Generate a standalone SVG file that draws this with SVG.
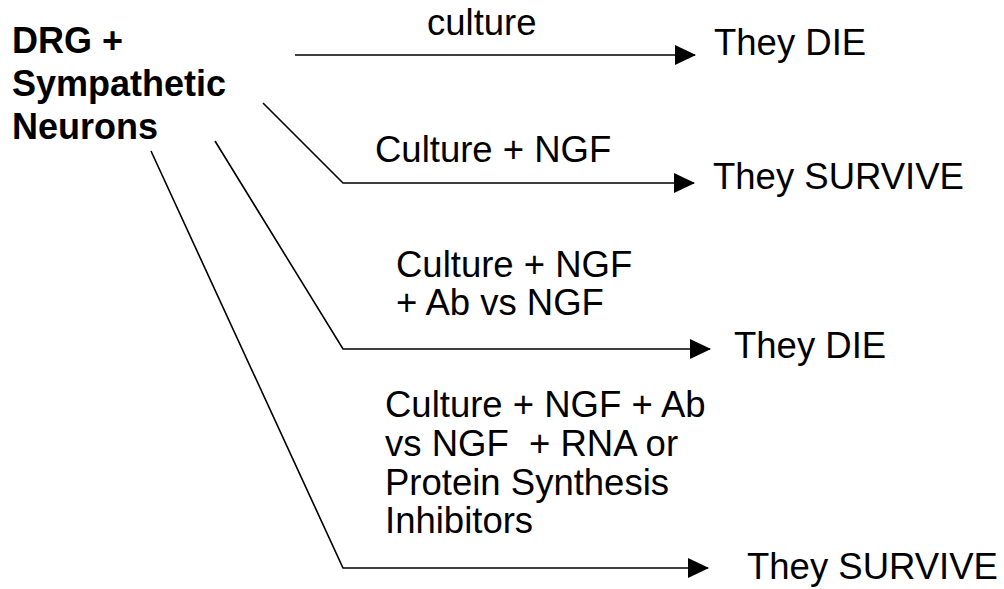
<svg xmlns="http://www.w3.org/2000/svg" width="1004" height="589" viewBox="0 0 1004 589">
  <style>
    .lbl { font-family: "Liberation Sans", Arial, sans-serif; font-size: 36.5px; fill: #000; white-space: pre; }
    .src { font-family: "Liberation Sans", Arial, sans-serif; font-size: 36px; font-weight: bold; fill: #000; }
    .conn { fill: none; stroke: #000; stroke-width: 1.6; marker-end: url(#arrow); }
  </style>
  <defs>
    <marker id="arrow" viewBox="0 0 21 20" refX="20" refY="10" markerWidth="21" markerHeight="20" markerUnits="userSpaceOnUse" orient="auto">
      <path d="M0,0 L21,10 L0,20 z" fill="#000"/>
    </marker>
  </defs>
  <rect width="1004" height="589" fill="#fff"/>

  <!-- source cells -->
  <g id="neurons">
    <text class="src" x="12" y="53">DRG +</text>
    <text class="src" x="12" y="96">Sympathetic</text>
    <text class="src" x="12" y="139">Neurons</text>
  </g>

  <!-- experimental conditions -->
  <g id="cond-culture">
    <text class="lbl" x="427" y="35">culture</text>
  </g>
  <g id="cond-ngf">
    <text class="lbl" x="375" y="162">Culture + NGF</text>
  </g>
  <g id="cond-antibody">
    <text class="lbl" x="396" y="277">Culture + NGF</text>
    <text class="lbl" x="396" y="315">+ Ab vs NGF</text>
  </g>
  <g id="cond-inhibitors">
    <text class="lbl" x="385" y="417">Culture + NGF + Ab</text>
    <text class="lbl" x="385" y="456" xml:space="preserve">vs NGF  + RNA or</text>
    <text class="lbl" x="385" y="495">Protein Synthesis</text>
    <text class="lbl" x="385" y="533">Inhibitors</text>
  </g>

  <!-- outcomes -->
  <g id="out-die-1">
    <text class="lbl" x="714" y="55">They DIE</text>
  </g>
  <g id="out-survive-1">
    <text class="lbl" x="713" y="189">They SURVIVE</text>
  </g>
  <g id="out-die-2">
    <text class="lbl" x="734" y="358">They DIE</text>
  </g>
  <g id="out-survive-2">
    <text class="lbl" x="747" y="579">They SURVIVE</text>
  </g>

  <!-- connectors -->
  <g id="connectors">
    <path class="conn" d="M295,55 L695,55"/>
    <path class="conn" d="M263,103 L343,183 L694,183"/>
    <path class="conn" d="M215,141 L343,349 L710,349"/>
    <path class="conn" d="M151,151 L343,568 L708,568"/>
  </g>
</svg>
